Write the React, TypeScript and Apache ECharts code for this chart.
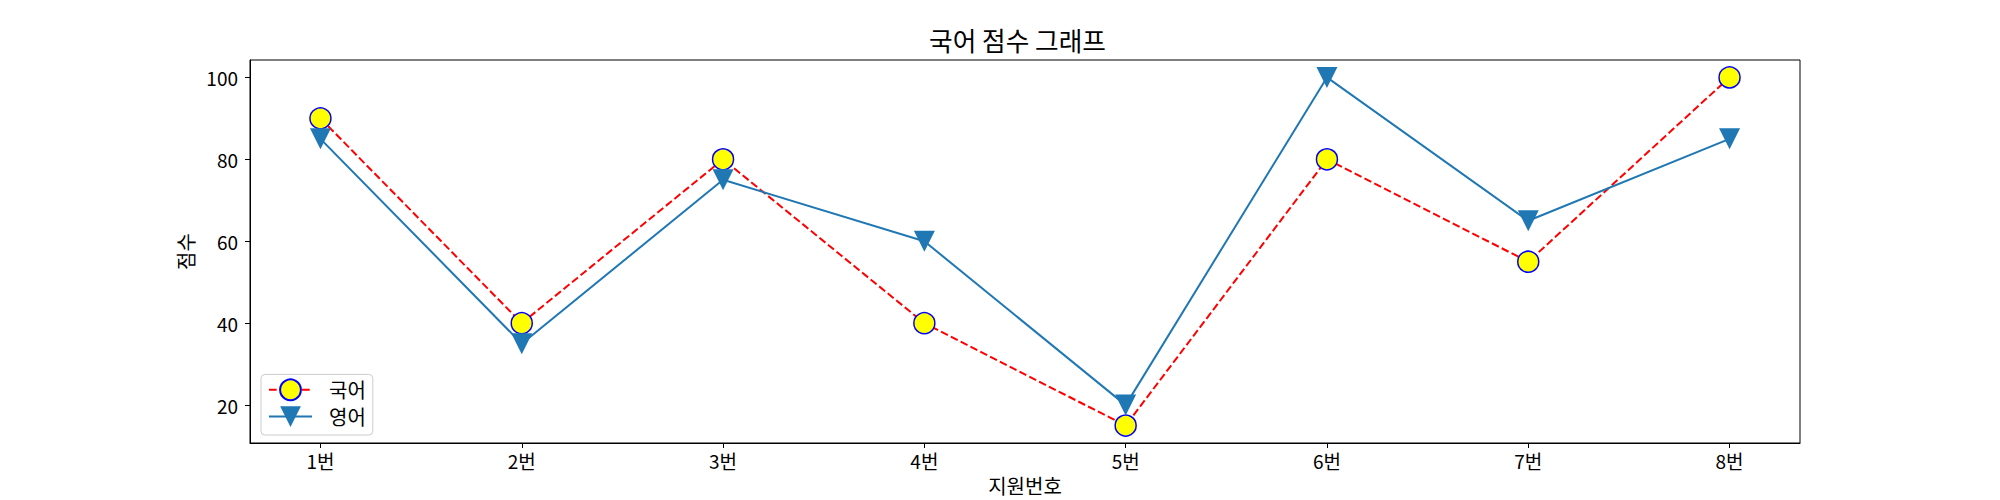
import React, { useEffect, useRef } from "react";
import * as echarts from "echarts";

const categories = ["1번", "2번", "3번", "4번", "5번", "6번", "7번", "8번"];
const korean = [90, 40, 80, 40, 15, 80, 55, 100];
const english = [85, 35, 75, 60, 20, 100, 65, 85];
const yTicks = [20, 40, 60, 80, 100];
const FONT = '"Noto Sans CJK KR", "Noto Sans", sans-serif';

export default function App() {
  const ref = useRef<HTMLDivElement>(null);
  useEffect(() => {
    if (!ref.current) return;
    const chart = echarts.init(ref.current, undefined, { renderer: "svg" });
    const xIdx = categories.map((_, i) => i);
    chart.setOption({
      animation: false,
      backgroundColor: "#ffffff",
      textStyle: { fontFamily: FONT },
      title: {
        text: "국어 점수 그래프",
        left: 929,
        top: 27,
        padding: 0,
        textStyle: { fontFamily: FONT, fontSize: 25.7, fontWeight: "normal", color: "#000" },
      },
      grid: {
        left: 250,
        top: 60,
        width: 1550,
        height: 385,
        show: true,
        borderColor: "#000",
        borderWidth: 1,
        backgroundColor: "transparent",
      },
      legend: {
        data: ["국어", "영어"],
        orient: "vertical",
        left: 261,
        bottom: 65,
        itemWidth: 43,
        itemHeight: 26,
        itemGap: 5,
        padding: [4, 7, 8, 7],
        borderColor: "#cccccc",
        borderWidth: 1,
        borderRadius: 4,
        backgroundColor: "rgba(255,255,255,0.8)",
        textStyle: { fontFamily: FONT, fontSize: 20, color: "#000", padding: [0, 0, 0, 12] },
      },
      xAxis: {
        type: "value",
        min: -0.35,
        max: 7.35,
        name: "지원번호",
        nameLocation: "middle",
        nameGap: 32,
        nameTextStyle: { fontFamily: FONT, fontSize: 20, color: "#000" },
        splitLine: { show: false },
        axisLine: { show: true, onZero: false, lineStyle: { color: "#000", width: 1 } },
        axisTick: { show: true, customValues: xIdx, length: 5, lineStyle: { color: "#000" } },
        axisLabel: {
          customValues: xIdx,
          margin: 8,
          fontFamily: FONT,
          fontSize: 19,
          color: "#000",
          formatter: (v: number) => categories[Math.round(v)] ?? "",
        },
      },
      yAxis: {
        type: "value",
        min: 10.75,
        max: 104.25,
        name: "점수",
        nameLocation: "middle",
        nameGap: 51,
        nameRotate: 90,
        nameTextStyle: { fontFamily: FONT, fontSize: 20, color: "#000" },
        splitLine: { show: false },
        axisLine: { show: true, onZero: false, lineStyle: { color: "#000", width: 1 } },
        axisTick: { show: true, customValues: yTicks, length: 5, lineStyle: { color: "#000" } },
        axisLabel: {
          customValues: yTicks,
          margin: 12,
          fontFamily: FONT,
          fontSize: 19,
          color: "#000",
        },
      },
      series: [
        {
          name: "국어",
          type: "line",
          z: 2,
          data: xIdx.map((i) => [i, korean[i]]),
          symbol: "circle",
          symbolSize: 21,
          itemStyle: { color: "#ffff00", borderColor: "#0000ff", borderWidth: 1.5 },
          lineStyle: { color: "#ff0000", width: 2, type: [7.7, 3.3] },
        },
        {
          name: "영어",
          type: "line",
          z: 3,
          data: xIdx.map((i) => [i, english[i]]),
          symbol: "triangle",
          symbolRotate: 180,
          symbolSize: 21,
          itemStyle: { color: "#1f77b4" },
          lineStyle: { color: "#1f77b4", width: 2 },
        },
      ],
    });
    return () => chart.dispose();
  }, []);
  return (
    <div
      ref={ref}
      style={{ position: "fixed", left: 0, top: 0, width: 2000, height: 500, background: "#fff" }}
    />
  );
}
